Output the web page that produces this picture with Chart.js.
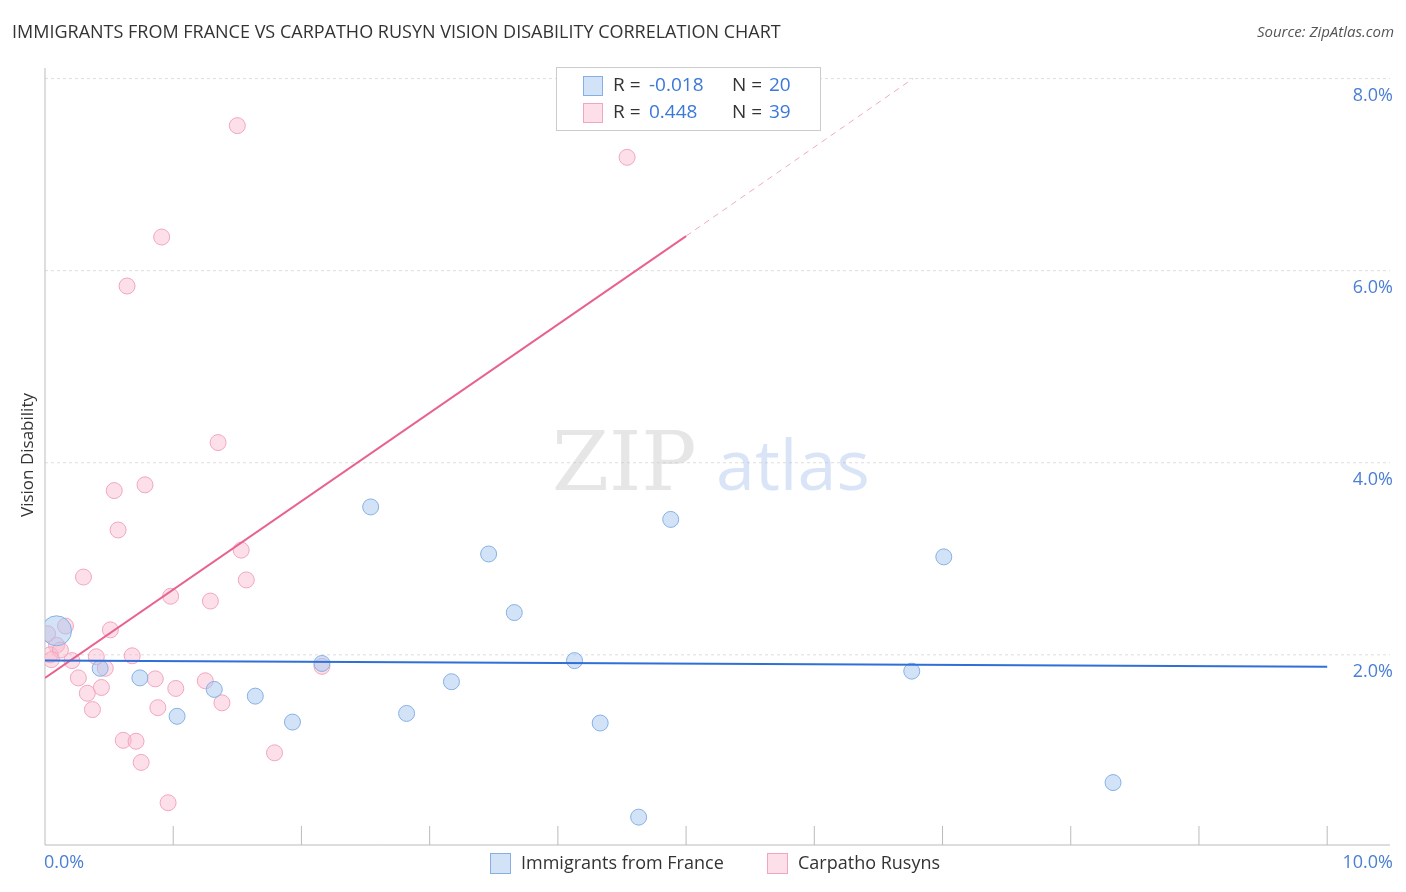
<!DOCTYPE html>
<html><head><meta charset="utf-8">
<script src="https://cdn.jsdelivr.net/npm/chart.js@4"></script>
<style>body{margin:0;background:#fff}</style>
</head><body><canvas id="c" width="1406" height="892"></canvas>
<script>
var franceX = [0.09,0.43,0.74,1.03,1.32,1.64,1.93,2.16,2.54,2.82,3.17,3.46,3.66,4.13,4.33,4.63,4.88,6.76,7.01,8.33];
var franceY = [2.25,1.86,1.76,1.36,1.64,1.57,1.30,1.91,3.54,1.39,1.72,3.05,2.44,1.94,1.29,0.31,3.41,1.83,3.02,0.67];
var rusynX = [1.50,4.54,0.91,0.64,1.35,0.78,0.54,0.57,1.53,0.30,1.57,0.98,1.29,0.51,0.16,0.09,0.04,0.21,0.40,0.68,0.47,0.26,0.86,1.25,1.02,0.44,0.33,0.37,0.88,1.38,2.16,0.61,0.71,0.75,1.79,0.96,0.02,0.12,0.05];
var rusynY = [7.51,7.18,6.35,5.84,4.21,3.77,3.71,3.30,3.09,2.81,2.78,2.61,2.56,2.26,2.30,2.10,2.00,1.94,1.98,1.99,1.86,1.76,1.75,1.73,1.65,1.66,1.60,1.43,1.45,1.50,1.88,1.11,1.10,0.88,0.98,0.46,2.22,2.05,1.95];
var yTicks = [2,4,6,8];
var franceLine = [[0,1.94],[10,1.875]];
var rusynLine = [[0,1.76],[5,6.36]];
var rusynDash = [[5,6.36],[6.77,8.0]];

function pts(xs, ys){ return xs.map(function(x,i){ return {x:x, y:ys[i]}; }); }
function line(a){ return a.map(function(p){ return {x:p[0], y:p[1]}; }); }

var blueFill = 'rgba(165,200,242,0.5)', blueEdge = '#86b0e4';
var pinkFill = 'rgba(248,185,205,0.45)', pinkEdge = '#f2a6be';

var deco = {
  id:'deco',
  beforeDatasetsDraw:function(ch){
    var c = ch.ctx, x = ch.scales.x, y = ch.scales.y, a = ch.chartArea;
    c.save();
    c.strokeStyle = '#dddddd'; c.lineWidth = 1; c.setLineDash([3,3]);
    yTicks.forEach(function(t){ var py = y.getPixelForValue(t); c.beginPath(); c.moveTo(a.left,py); c.lineTo(a.right,py); c.stroke(); });
    c.setLineDash([]);
    c.strokeStyle = '#bbbbbb';
    c.beginPath(); c.moveTo(a.left,a.top); c.lineTo(a.left,a.bottom); c.lineTo(a.right,a.bottom); c.stroke();
    for (var i=1;i<=10;i++){ var px = x.getPixelForValue(i); c.beginPath(); c.moveTo(px,a.bottom); c.lineTo(px,a.bottom-19); c.stroke(); }
    c.font = '82px "DejaVu Serif", serif'; c.fillStyle = 'rgba(200,200,200,0.45)'; c.textBaseline='alphabetic'; c.textAlign='left';
    c.fillText('ZIP', 552, 490);
    c.font = '70px "Open Sans", sans-serif'; c.fillStyle = 'rgba(160,190,235,0.4)';
    c.fillText('atlas', 716, 490);
    c.restore();
  },
  afterDraw:function(ch){
    var c = ch.ctx, x = ch.scales.x, y = ch.scales.y;
    c.save();
    c.textBaseline = 'middle';
    c.font = '18px "Open Sans", sans-serif'; c.fillStyle = '#333'; c.textAlign = 'left';
    c.fillText('IMMIGRANTS FROM FRANCE VS CARPATHO RUSYN VISION DISABILITY CORRELATION CHART', 12, 33);
    c.font = 'italic 15px "Open Sans", sans-serif'; c.fillStyle = '#555'; c.textAlign = 'right';
    c.fillText('Source: ZipAtlas.com', 1394, 33);
    c.font = '18px "Open Sans", sans-serif'; c.fillStyle = '#4a7fd4';
    yTicks.forEach(function(t){ c.fillText(t.toFixed(1)+'%', 1393, y.getPixelForValue(t)+17); });
    c.textAlign = 'left'; c.fillText('0.0%', 44, 863);
    c.textAlign = 'right'; c.fillText('10.0%', 1393, 863);
    c.translate(28, 455); c.rotate(-Math.PI/2); c.textAlign='center'; c.fillStyle='#333'; c.font='17px "Open Sans", sans-serif';
    c.fillText('Vision Disability', 0, 0);
    c.setTransform(1,0,0,1,0,0);
    // top legend
    c.fillStyle = '#fff'; c.fillRect(556,67,265,64);
    c.strokeStyle = '#cccccc'; c.lineWidth = 1; c.strokeRect(556.5,67.5,264,63);
    [[blueFill,blueEdge,'-0.018','20',86],[pinkFill,pinkEdge,'0.448','39',113]].forEach(function(r){
      c.fillStyle = r[0]; c.fillRect(583,r[4]-10,20,20); c.strokeStyle=r[1]; c.strokeRect(583.5,r[4]-9.5,19,19);
      c.textAlign='left'; c.font='19px "Open Sans", sans-serif';
      c.fillStyle='#333'; c.fillText('R = ',613,r[4]);
      c.fillStyle='#3b78d8'; c.fillText(r[2],649,r[4]);
      c.fillStyle='#333'; c.fillText('N = ',732,r[4]);
      c.fillStyle='#3b78d8'; c.fillText(r[3],769,r[4]);
    });
    // bottom legend
    c.font = '18px "Open Sans", sans-serif';
    [[blueFill,blueEdge,'Immigrants from France',490],[pinkFill,pinkEdge,'Carpatho Rusyns',767]].forEach(function(r){
      c.fillStyle=r[0]; c.fillRect(r[3],853,21,21); c.strokeStyle=r[1]; c.strokeRect(r[3]+0.5,853.5,20,20);
      c.fillStyle='#333'; c.textAlign='left'; c.fillText(r[2], r[3]+31, 864);
    });
    c.restore();
  }
};

var bigR = franceX.map(function(v,i){ return i===0 ? 15 : 8; });

new Chart(document.getElementById('c'), {
  type:'scatter',
  data:{ datasets:[
    {data:line(franceLine), type:'line', borderColor:'#2f6fd6', borderWidth:2, pointRadius:0, order:0},
    {data:line(rusynLine), type:'line', borderColor:'#e8638c', borderWidth:2, pointRadius:0, order:0},
    {data:line(rusynDash), type:'line', borderColor:'#efaabd', borderWidth:1, borderDash:[6,5], pointRadius:0, order:0},
    {data:pts(rusynX,rusynY), backgroundColor:pinkFill, borderColor:pinkEdge, borderWidth:1, pointRadius:8, order:2},
    {data:pts(franceX,franceY), backgroundColor:blueFill, borderColor:blueEdge, borderWidth:1, pointRadius:bigR, order:1}
  ]},
  options:{
    responsive:false, animation:false, devicePixelRatio:1,
    layout:{padding:{left:45,right:13,top:68,bottom:47}},
    plugins:{legend:{display:false}, tooltip:{enabled:false}},
    scales:{
      x:{type:'linear', min:0, max:10.49, display:false},
      y:{type:'linear', min:0.02, max:8.11, display:false}
    }
  },
  plugins:[deco]
});
</script>
</body></html>
